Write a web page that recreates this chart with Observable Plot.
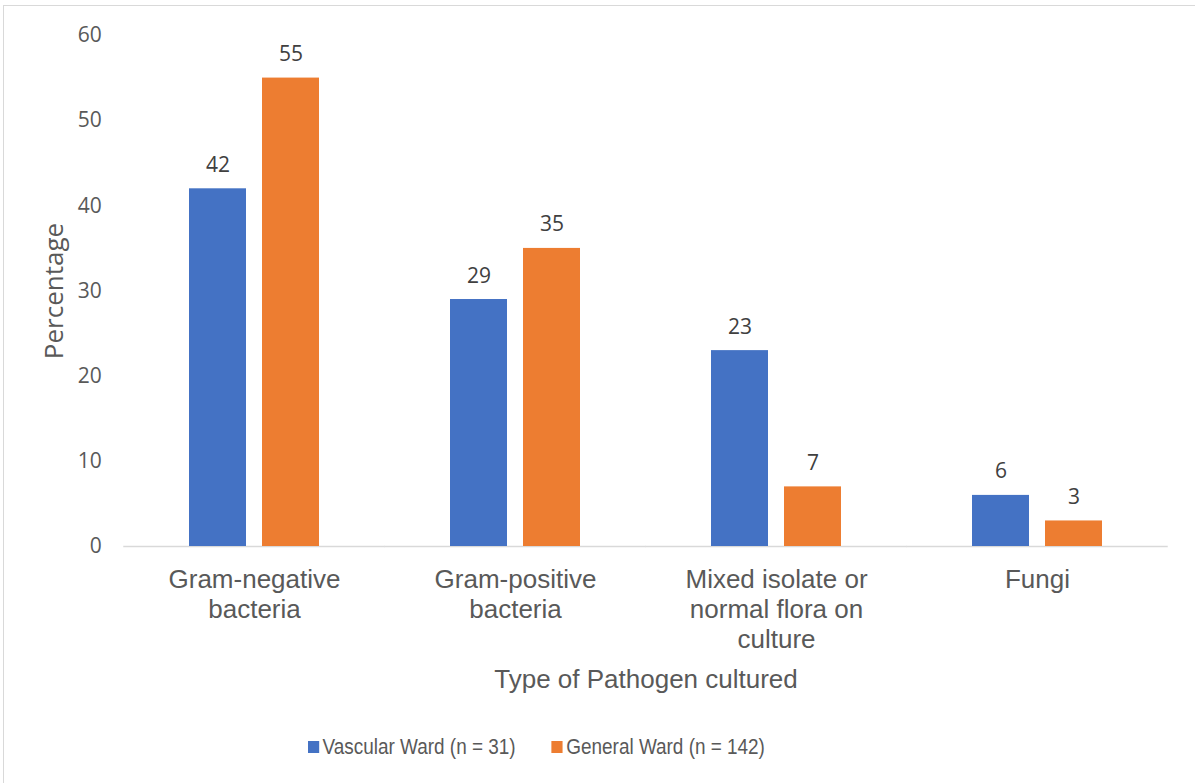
<!DOCTYPE html>
<html>
<head>
<meta charset="utf-8">
<script src="https://cdn.jsdelivr.net/npm/d3@7"></script>
<script src="https://cdn.jsdelivr.net/npm/@observablehq/plot@0.6"></script>
<style>
  body { margin: 0; background: #fff; }
  #chart { position: absolute; left: 0; top: 0; }
  #frame {
    position: absolute; left: 3px; top: 5px; width: 1300px; height: 900px;
    border-left: 1.5px solid #d9d9d9; border-top: 1.5px solid #d9d9d9;
    pointer-events: none;
  }
  .legend {
    position: absolute; top: 735px; left: 308px;
    display: flex; align-items: center;
    font: 22px/24px "Liberation Sans", Arial, sans-serif; color: #595959;
    transform: scaleX(0.86); transform-origin: 0 50%;
  }
  .legend .item { display: flex; align-items: center; margin-right: 42px; }
  .legend .sw { display: inline-block; width: 13px; height: 12px; margin-right: 4px; }
</style>
</head>
<body>
<div id="chart"></div>
<div class="legend" id="legend"></div>
<div id="frame"></div>
<script>
// Pathogen types (axis order) and their wrapped tick labels
const categories = [
  "Gram-negative bacteria",
  "Gram-positive bacteria",
  "Mixed isolate or normal flora on culture",
  "Fungi"
];
const categoryLabels = [
  "Gram-negative\nbacteria",
  "Gram-positive\nbacteria",
  "Mixed isolate or\nnormal flora on\nculture",
  "Fungi"
];

// Ward series
const seriesNames = ["Vascular Ward (n = 31)", "General Ward (n = 142)"];
const seriesColors = ["#4472C4", "#ED7D31"];

// Percentages per pathogen type
const vascularWard = [42, 29, 23, 6];
const generalWard = [55, 35, 7, 3];

const yTicks = [0, 10, 20, 30, 40, 50, 60];

const rows = categories.flatMap((c, i) => [
  {category: c, series: seriesNames[0], value: vascularWard[i]},
  {category: c, series: seriesNames[1], value: generalWard[i]}
]);

// Layout
const W = 1195, H = 700;
const mL = 122, mR = 27, mT = 35, mB = H - 546;
const fxPadInner = 0.495, fxPadOuter = 0.2475;
const step = (W - mL - mR) / (categories.length - fxPadInner + 2 * fxPadOuter);
const outerGap = step * fxPadOuter; // distance from plot edge to first group

const sansFont = "'Liberation Sans', Arial, sans-serif";
const numFont = "'Open Sans', sans-serif";

const chart = Plot.plot({
  width: W,
  height: H,
  marginTop: mT,
  marginBottom: mB,
  marginLeft: mL,
  marginRight: mR,
  style: {fontFamily: sansFont, background: "transparent", overflow: "visible"},
  fx: {domain: categories, paddingInner: fxPadInner, paddingOuter: fxPadOuter},
  x: {domain: seriesNames, paddingInner: 0.216, paddingOuter: 0, axis: null},
  y: {domain: [0, 60]},
  color: {domain: seriesNames, range: seriesColors},
  marks: [
    Plot.ruleY([0], {stroke: "#d9d9d9", strokeWidth: 1.5, insetLeft: -outerGap, insetRight: -outerGap}),
    Plot.barY(rows, {fx: "category", x: "series", y: "value", fill: "series"}),
    Plot.text(rows, {
      fx: "category", x: "series", y: "value",
      text: d => String(d.value),
      lineAnchor: "bottom", dy: -17,
      fontFamily: numFont, fontSize: 21, fill: "#404040"
    }),
    Plot.axisY({
      ticks: yTicks, tickSize: 0, tickPadding: 22 + outerGap,
      fontFamily: numFont, fontSize: 21, fill: "#595959", label: null
    }),
    Plot.axisY({
      ticks: [], tickSize: 0,
      label: "Percentage", labelAnchor: "center", labelArrow: "none",
      labelOffset: 79 + outerGap,
      fontFamily: numFont, fontSize: 26, fill: "#595959"
    }),
    Plot.axisFx({
      anchor: "bottom",
      tickSize: 0, tickPadding: 20,
      tickFormat: c => categoryLabels[categories.indexOf(c)],
      lineHeight: 1.15, fontSize: 26, fontFamily: sansFont, fill: "#595959",
      label: "Type of Pathogen cultured", labelAnchor: "center", labelArrow: "none",
      labelOffset: 141
    })
  ]
});
document.getElementById("chart").append(chart);

// Legend below the chart
const legend = document.getElementById("legend");
seriesNames.forEach((name, i) => {
  const item = document.createElement("div");
  item.className = "item";
  const sw = document.createElement("span");
  sw.className = "sw";
  sw.style.background = seriesColors[i];
  const label = document.createElement("span");
  label.textContent = name;
  item.append(sw, label);
  legend.append(item);
});
</script>
</body>
</html>
